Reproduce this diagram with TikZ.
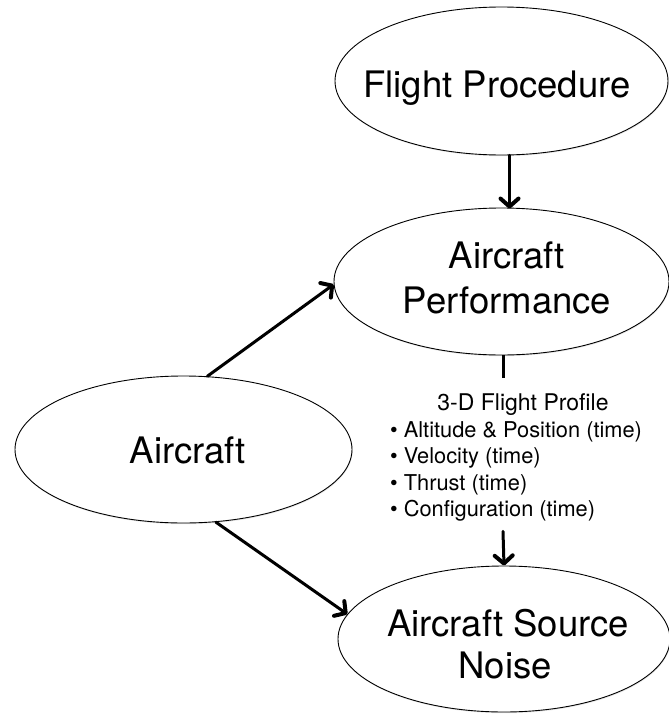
\documentclass[tikz,border=0pt]{standalone}
\usepackage{fontspec}
\setmainfont{TeX Gyre Heros}
\usetikzlibrary{shapes.geometric,arrows.meta,shadows,calc}
\tikzset{
  oval/.style={ellipse, draw=black, line width=0.9pt, fill=white, inner sep=0pt,
    drop shadow={shadow xshift=0.6pt, shadow yshift=-1.2pt, fill=black!18}},
  big/.style={font=\fontsize{36.5}{44}\selectfont, anchor=base, inner sep=0pt},
  small/.style={font=\fontsize{23}{28}\selectfont, anchor=base, inner sep=0pt},
  item/.style={font=\fontsize{21.8}{26}\selectfont, anchor=base west, inner sep=0pt},
  conn/.style={line width=3pt, line cap=round, -{Straight Barb[length=8pt,width=18pt,line width=4pt,round]}},
  plain/.style={line width=3pt}
}
\begin{document}
\begin{tikzpicture}[x=1pt,y=-1pt]
\useasboundingbox (0,0) rectangle (669,715);
% ellipses
\node[oval, minimum width=333pt, minimum height=148pt] (FP) at (501.5,81) {};
\node[oval, minimum width=335pt, minimum height=147pt] (AP) at (501.5,281.5) {};
\node[oval, minimum width=337pt, minimum height=147pt] (AC) at (183.5,449.5) {};
\node[oval, minimum width=332pt, minimum height=146pt] (SN) at (504,639) {};
% texts
\node[big] (tFP) at (497,97) {Flight Procedure};
\node[big] (tAP1) at (507,268) {Aircraft};
\node[big] (tAP2) at (507,313) {Performance};
\node[big] (tAC) at (188,463) {Aircraft};
\node[big] (tSN1) at (508,636) {Aircraft Source};
\node[big] (tSN2) at (505,678) {Noise};
\node[small] (prof) at (523,410) {3-D Flight Profile};
\node[item] (i1) at (390,437) {\textbullet\hspace{6pt}Altitude \& Position (time)};
\node[item] (i2) at (390,463.5) {\textbullet\hspace{6pt}Velocity (time)};
\node[item] (i3) at (390,490) {\textbullet\hspace{6pt}Thrust (time)};
\node[item] (i4) at (390,516.5) {\textbullet\hspace{6pt}Configuration (time)};
% connectors
\coordinate (a1) at ([xshift=8pt]FP.south);
\coordinate (a2) at ([xshift=8pt,yshift=-1pt]AP.north);
\draw[conn] (a1) -- (a2);
\coordinate (b1) at ($(AP.south)+(1.5,23)$);
\coordinate (b2) at ($(AP.south)+(1.5,176)$);
\coordinate (b0) at ($(AP.south)+(1.5,0)$);
\draw[plain] (b0) -- (b1);
\draw[conn] (b2) -- (SN.north);
\draw[conn] (AC.72) -- (AP.181);
\draw[conn] (AC.-66) -- (SN.171);
\end{tikzpicture}
\end{document}
